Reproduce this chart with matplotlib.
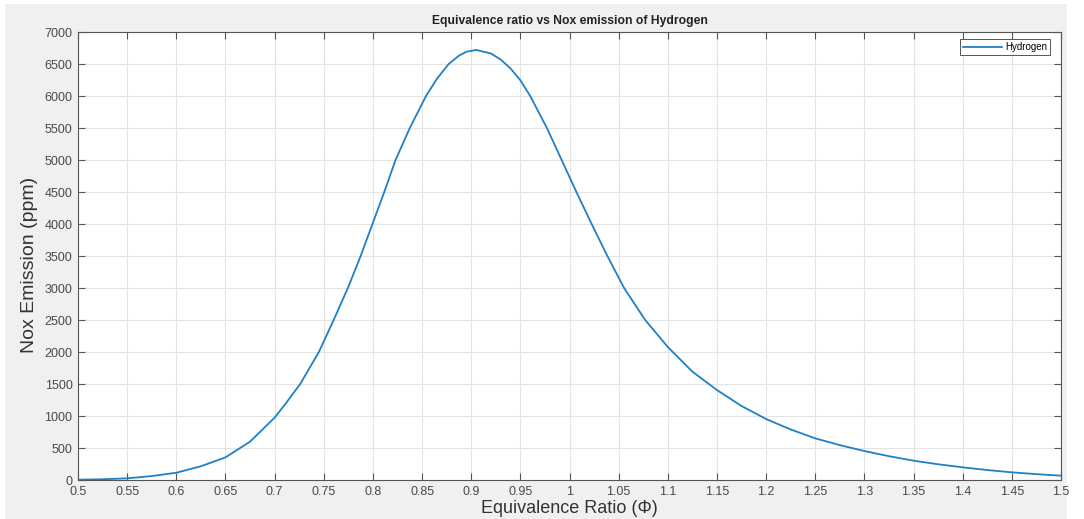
import matplotlib
matplotlib.use("Agg")
import matplotlib.pyplot as plt
from matplotlib.patches import Rectangle
import numpy as np

plt.rcParams['font.family'] = ['Liberation Sans', 'DejaVu Sans']

# values
phi = [0.5, 0.525, 0.55, 0.575, 0.6, 0.625, 0.65, 0.675, 0.7, 0.71,
       0.726, 0.745, 0.76, 0.7745, 0.7875, 0.7995, 0.8115, 0.823, 0.8375, 0.854,
       0.865, 0.877, 0.8875, 0.895, 0.905, 0.92, 0.93, 0.94, 0.95, 0.96,
       0.977, 0.992, 1.007, 1.0225, 1.0385, 1.0555, 1.077, 1.1, 1.125, 1.15,
       1.175, 1.2, 1.225, 1.25, 1.275, 1.3, 1.325, 1.35, 1.375, 1.4,
       1.425, 1.45, 1.475, 1.5]
nox_ppm = [5, 12, 26, 62, 114, 215, 354, 600, 975, 1170,
           1500, 2000, 2500, 3000, 3500, 4000, 4500, 5000, 5500, 6000,
           6268, 6500, 6631, 6691, 6720, 6665, 6570, 6430, 6246, 6000,
           5500, 5000, 4500, 4000, 3500, 3000, 2500, 2078, 1693, 1406,
           1156, 953, 790, 651, 545, 453, 372, 302, 246, 198,
           156, 120, 92, 68]

x_ticks = np.arange(0.5, 1.5001, 0.05)
y_ticks = np.arange(0, 7001, 500)
x_labels = ['0.5', '0.55', '0.6', '0.65', '0.7', '0.75', '0.8', '0.85', '0.9', '0.95', '1',
            '1.05', '1.1', '1.15', '1.2', '1.25', '1.3', '1.35', '1.4', '1.45', '1.5']

fig = plt.figure(figsize=(10.84, 5.19), dpi=100, facecolor='white')
# grey MATLAB-like figure background
bg = Rectangle((5 / 1084, 0), 1062 / 1084, 515 / 519,
               transform=fig.transFigure, facecolor='#f0f0f0',
               edgecolor='none', zorder=-10)
fig.add_artist(bg)

ax = fig.add_axes([0.072, 0.0751, 0.9068, 0.8632])
ax.set_facecolor('white')
ax.plot(phi, nox_ppm, color='#1f80c8', linewidth=1.3, label='Hydrogen')

ax.set_xlim(0.5, 1.5)
ax.set_ylim(0, 7000)
ax.set_xticks(x_ticks)
ax.set_xticklabels(x_labels)
ax.set_yticks(y_ticks)
ax.grid(True, color='#e3e3e3', linewidth=0.8)
ax.set_axisbelow(True)

ax.tick_params(direction='in', length=5, width=0.8, color='#555555',
               labelsize=9, labelcolor='#4a4a4a', top=True, right=True, pad=4)
for s in ax.spines.values():
    s.set_color('#555555')
    s.set_linewidth(0.8)

ax.set_title('Equivalence ratio vs Nox emission of Hydrogen', fontsize=8.7,
             fontweight='bold', color='#222222', pad=6)
ax.set_xlabel('Equivalence Ratio (Φ)', fontsize=13, color='#333333', labelpad=2)
ax.set_ylabel('Nox Emission (ppm)', fontsize=14, color='#333333')
ax.yaxis.set_label_coords(-0.041, 0.48)

leg = ax.legend(loc='upper right', fontsize=7, fancybox=False, framealpha=1,
                edgecolor='#555555', handlelength=4, borderpad=0.3,
                handletextpad=0.3, bbox_to_anchor=(0.9935, 0.995))
leg.get_frame().set_linewidth(0.7)

fig.savefig('out.png', dpi=100, facecolor=fig.get_facecolor())
